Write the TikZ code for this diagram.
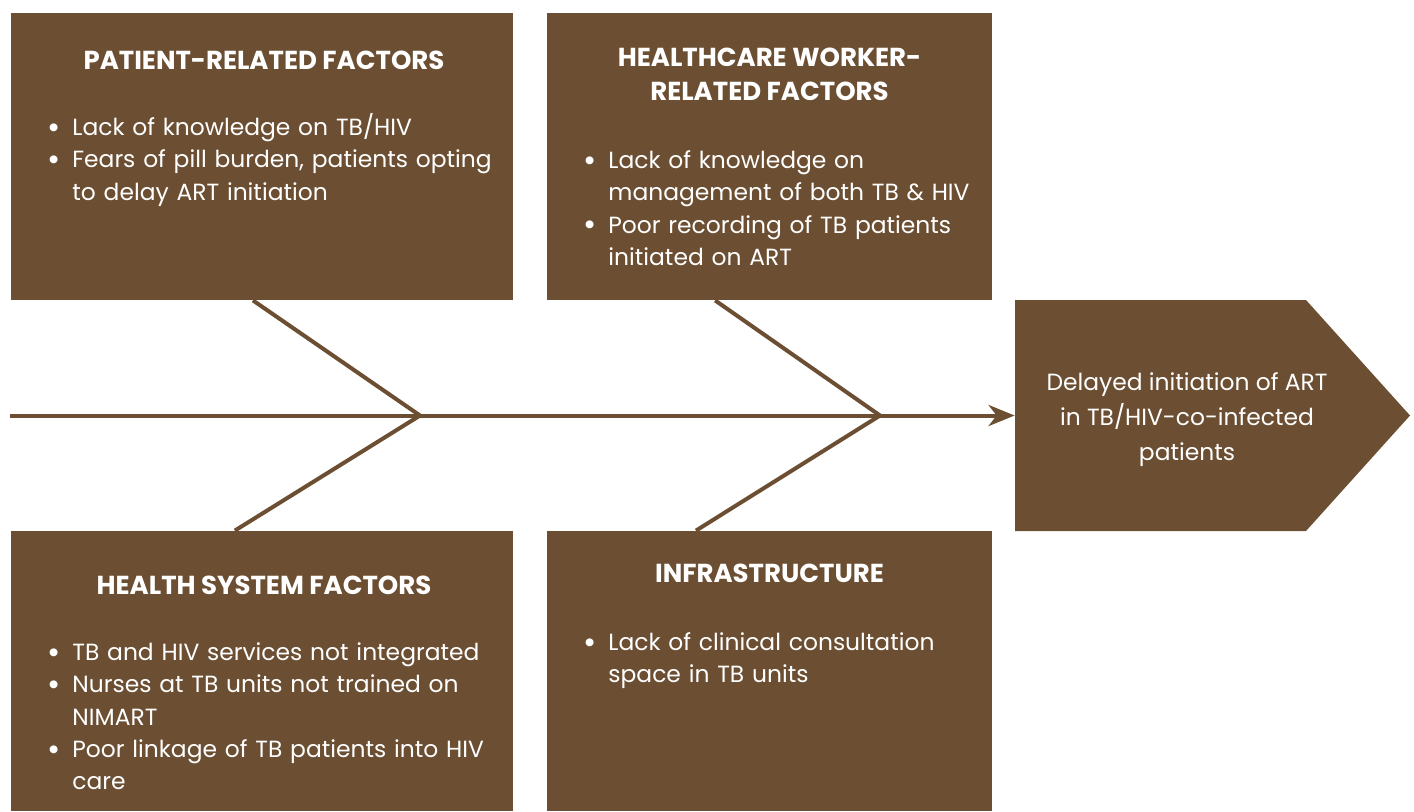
\documentclass[tikz,border=0pt]{standalone}
\usepackage{fontspec}
\setmainfont{Poppins}
\usetikzlibrary{arrows.meta,calc}

\definecolor{bark}{RGB}{108,79,51}

% one bullet item, wrapped lines hang under the text
\newcommand{\bitem}[1]{\noindent\hangindent=12.5pt\hangafter=1%
  \makebox[12.5pt][l]{\raisebox{-1.4pt}{\fontsize{16}{16}\selectfont\textbullet}}#1\par}

\tikzset{
  factor/.style={fill=bark, inner sep=0pt},
  heading/.style={text=white, font=\bfseries\fontsize{13}{17}\selectfont, align=center, inner sep=0pt, anchor=north},
  bullets/.style={text=white, font=\fontsize{11.7}{16.2}\selectfont, align=left, text width=240pt, inner sep=0pt, anchor=north west},
  bone/.style={draw=bark, line width=2pt},
}

\begin{document}
\begin{tikzpicture}[x=0.5pt, y=-0.5pt, >={Stealth[length=13pt, width=10.5pt, inset=4pt]}]
\useasboundingbox (0,0) rectangle (1414,811);

        % Draw the cause boxes
        \node[factor, minimum width=251pt, minimum height=143.5pt] (patient) at (262,156.5) {};
        \node[factor, minimum width=222.5pt, minimum height=143.5pt] (worker) at (769.5,156.5) {};
        \node[factor, minimum width=251pt, minimum height=140pt] (system) at (262,671) {};
        \node[factor, minimum width=222.5pt, minimum height=140pt] (infra) at (769.5,671) {};

        % Headings
        \node[heading] (patienttitle) at (264,51) {PATIENT-RELATED FACTORS};
        \node[heading] (workertitle) at (769.5,48) {HEALTHCARE WORKER-\\RELATED FACTORS};
        \node[heading] (systemtitle) at (264,576) {HEALTH SYSTEM FACTORS};
        \node[heading] (infratitle) at (769.5,564) {INFRASTRUCTURE};

        % Bullet lists
        \node[bullets] (patientlist) at (47,113) {%
          \bitem{Lack of knowledge on TB/HIV}%
          \bitem{Fears of pill burden, patients opting\newline to delay ART initiation}};
        \node[bullets] (workerlist) at (583,150) {%
          \bitem{Lack of knowledge on\newline management of both TB \& HIV}%
          \bitem{Poor recording of TB patients\newline initiated on ART}};
        \node[bullets] (systemlist) at (47,642) {%
          \bitem{TB and HIV services not integrated}%
          \bitem{Nurses at TB units not trained on\newline NIMART}%
          \bitem{Poor linkage of TB patients into HIV\newline care}};
        \node[bullets] (infralist) at (583,632) {%
          \bitem{Lack of clinical consultation\newline space in TB units}};

        % Draw the effect head
        \fill[bark] (1015,300) -- (1306,300) -- (1410,415.5) -- (1306,531) -- (1015,531) -- cycle;
        \node[text=white, font=\fontsize{11.7}{17.5}\selectfont, align=center, inner sep=0pt, minimum width=172pt] (effect) at (1187,420)
          {Delayed initiation of ART\\in TB/HIV-co-infected\\patients};

        % Spine and joints
        \coordinate (tail) at (10,415.5);
        \coordinate (j1) at (420,415.5);
        \coordinate (j2) at (880,415.5);
        \draw[->, bone] (tail) -- (tail -| effect.west);

        % Bones
        \draw[bone] ($(patient.south west)!0.482!(patient.south east)$) -- (j1);
        \draw[bone] ($(system.north west)!0.446!(system.north east)$) -- (j1);
        \draw[bone] ($(worker.south west)!0.378!(worker.south east)$) -- (j2);
        \draw[bone] ($(infra.north west)!0.335!(infra.north east)$) -- (j2);

\end{tikzpicture}
\end{document}
